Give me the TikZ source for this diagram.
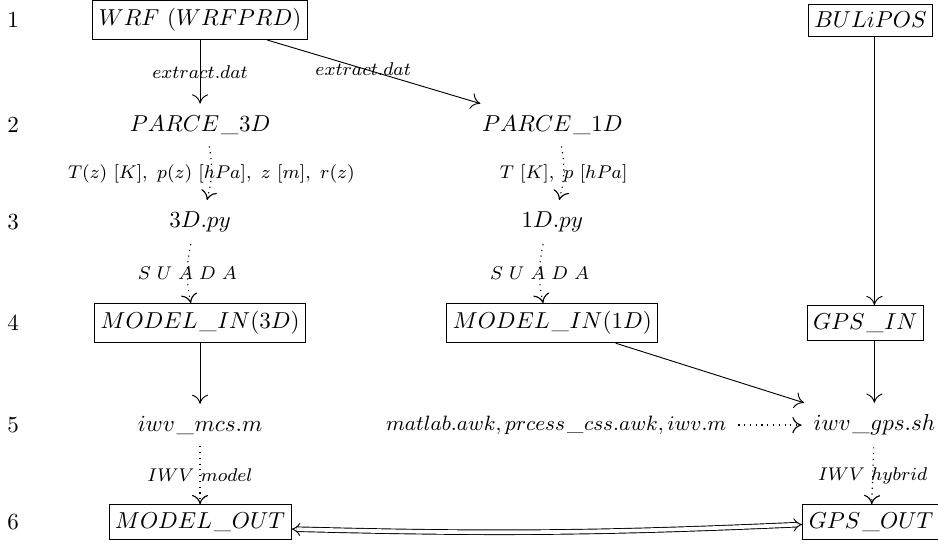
\documentclass[tikz,border=0pt]{standalone}
\usetikzlibrary{arrows.meta,positioning}
\newcommand{\us}{\kern0.8pt\_\kern0.3pt}
\begin{document}
\begin{tikzpicture}[>={To[length=4pt,width=7pt]},
      box/.style={draw, rectangle, inner xsep=2.6pt, inner ysep=3.5pt},
      file/.style={inner sep=5pt},
      lab/.style={font=\fontsize{7.6}{9}\selectfont, inner sep=1pt},
      flow/.style={->},
      feed/.style={->, dotted, line width=0.5pt}]
      \useasboundingbox (0,0) rectangle (14.30,-8.30);
      % row numbers
      \node (r1) at (0.2,-0.305) {1};
      \node (r2) at (0.2,-1.906) {2};
      \node (r3) at (0.2,-3.386) {3};
      \node (r4) at (0.2,-4.926) {4};
      \node (r5) at (0.2,-6.48) {5};
      \node (r6) at (0.2,-7.96) {6};
      % model branch
      \node[box] (wrf) at (3.05,-0.305) {$WRF\ (WRFPRD)$};
      \node[file] (parce3d) at (3.05,-1.906) {$PARCE\us 3D$};
      \node[file] (parce1d) at (8.42,-1.906) {$PARCE\us 1D$};
      \node[file] (py3d) at (3.05,-3.386) {$3D.py$};
      \node[file] (py1d) at (8.42,-3.386) {$1D.py$};
      \node[box] (modelin3d) at (3.05,-4.926) {$MODEL\us IN(3D)$};
      \node[box] (modelin1d) at (8.42,-4.926) {$MODEL\us IN(1D)$};
      \node[file] (iwvmcs) at (3.05,-6.48) {$iwv\us mcs.m$};
      \node[box] (modelout) at (3.05,-7.96) {$MODEL\us OUT$};
      % gps branch
      \node[box] (bulipos) at (13.27,-0.305) {$BULiPOS$};
      \node[box] (gpsin) at (13.19,-4.926) {$GPS\us IN$};
      \node[file] (iwvgps) at (13.33,-6.48) {$iwv\us gps.sh$};
      \node[file, font=\fontsize{9.2}{11}\selectfont] (tools) at (8.48,-6.48)
         {$matlab.awk, prcess\us css.awk, iwv.m$};
      \node[box] (gpsout) at (13.28,-7.96) {$GPS\us OUT$};

      \draw[flow] (wrf) -- node[lab] {$extract.dat$} (parce3d);
      \draw[flow] (wrf) -- node[lab, pos=0.45] {$extract.dat$} (parce1d);
      \draw[feed] ([xshift=4pt]parce3d.south) to[bend left=12]
         node[lab] {$T(z)\ [K],\ p(z)\ [hPa],\ z\ [m],\ r(z)$} ([xshift=3pt]py3d.north);
      \draw[feed] ([xshift=4pt]parce1d.south) to[bend left=12]
         node[lab] {$T\ [K],\ p\ [hPa]$} ([xshift=3pt]py1d.north);
      \draw[feed] ([xshift=-4pt]py3d.south) to[bend right=12]
         node[lab] {$S\ U\ A\ D\ A$} ([xshift=-4pt]modelin3d.north);
      \draw[feed] ([xshift=-4pt]py1d.south) to[bend right=12]
         node[lab] {$S\ U\ A\ D\ A$} ([xshift=-4pt]modelin1d.north);
      \draw[flow] (modelin3d) -- (iwvmcs);
      \draw[flow] (modelin1d) -- (iwvgps);
      \draw[flow] (bulipos.south -| iwvgps) -- (gpsin.north -| iwvgps);
      \draw[flow] (gpsin.south -| iwvgps) -- (iwvgps);
      \draw[feed] (tools) -- (iwvgps);
      \draw[feed] (iwvmcs) -- node[lab] {$IWV\ model$} (modelout);
      \draw[feed] (iwvgps) -- node[lab] {$IWV\ hybrid$} (gpsout);
      \draw[double, double distance=1.6pt, {Implies}-{Implies}]
         ([yshift=-3pt]modelout.east) to[bend right=2] ([yshift=-1pt]gpsout.west);
\end{tikzpicture}
\end{document}
